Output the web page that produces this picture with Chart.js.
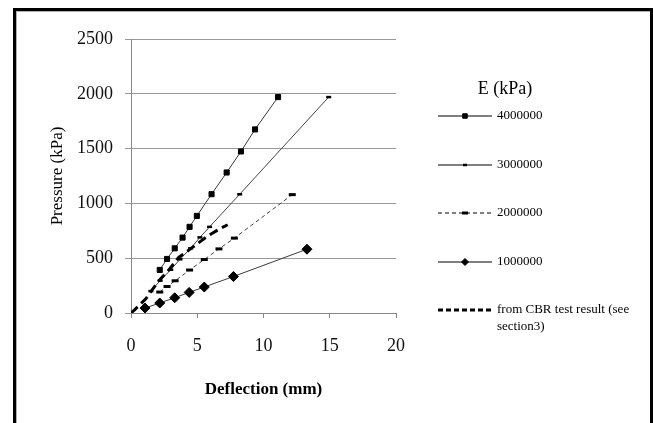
<!DOCTYPE html>
<html>
<head>
<meta charset="utf-8">
<script src="https://cdn.jsdelivr.net/npm/chart.js@4.4.1/dist/chart.umd.min.js"></script>
<style>
body{margin:0;background:#fff;}
#wrap{position:relative;width:653px;height:423px;overflow:hidden;background:#fff;}
#frame{position:absolute;left:13px;top:8px;width:634px;height:440px;border:3px solid #000;box-shadow:inset 1px 1px 0 #b0b0b0;pointer-events:none;}
canvas{position:absolute;left:0;top:0;}
</style>
</head>
<body>
<div id="wrap">
<canvas id="plot" width="653" height="423"></canvas>
<div id="frame"></div>
</div>
<script>
// values: deflection (mm) vs pressure (kPa)
var xTicks = [0, 5, 10, 15, 20];
var yTicks = [0, 500, 1000, 1500, 2000, 2500];

var legendTitle = 'E (kPa)';
var seriesNames = ['4000000', '3000000', '2000000', '1000000', ['from CBR test result (see', 'section3)']];

var defl4000 = [2.17, 2.72, 3.30, 3.89, 4.42, 4.97, 6.08, 7.22, 8.30, 9.36, 11.10];
var pres4000 = [393, 493, 590, 688, 786, 886, 1084, 1282, 1474, 1675, 1970];

var defl3000 = [1.5, 2.2, 3.0, 3.7, 4.5, 5.2, 5.93, 8.2, 14.92];
var pres3000 = [200, 295, 395, 490, 590, 690, 786, 1083, 1970];

var defl2000 = [2.17, 2.72, 3.33, 4.42, 5.53, 6.64, 7.8, 12.17];
var pres2000 = [191, 242, 294, 392, 488, 585, 683, 1080];

var defl1000 = [1.06, 2.17, 3.30, 4.39, 5.53, 7.73, 13.28];
var pres1000 = [45, 91, 139, 188, 237, 333, 582];

var deflCBR = [0, 0.25, 1.1, 2.1, 2.9, 3.6, 4.8, 5.8, 6.8, 7.3];
var presCBR = [0, 27, 127, 294, 400, 507, 613, 704, 775, 805];

function pts(xs, ys){
    return xs.map(function(x, i){ return {x: x, y: ys[i]}; });
}

var legendRows = [116, 165, 213, 262, 310];

var sideLegend = {
    id: 'sideLegend',
    afterDraw: function(chart){
        var ctx = chart.ctx;
        ctx.save();
        ctx.fillStyle = '#000';
        ctx.font = '18px "Liberation Serif"';
        ctx.textAlign = 'center';
        ctx.textBaseline = 'middle';
        ctx.fillText(legendTitle, 505, 89);

        chart.data.datasets.forEach(function(ds, i){
            var y = legendRows[i];
            ctx.strokeStyle = '#000';
            ctx.lineWidth = ds.legendLine || 1;
            ctx.setLineDash(ds.legendDash || []);
            ctx.beginPath();
            ctx.moveTo(438, y);
            ctx.lineTo(492, y);
            ctx.stroke();
            ctx.setLineDash([]);
            if (ds.pointRadius > 0) {
                ctx.fillStyle = '#000';
                ctx.strokeStyle = '#000';
                ctx.lineWidth = ds.pointBorderWidth;
                Chart.helpers.drawPoint(ctx, {
                    pointStyle: ds.pointStyle,
                    radius: ds.legendRadius,
                    borderWidth: ds.pointBorderWidth,
                    rotation: 0
                }, 465, y);
            }
            ctx.fillStyle = '#000';
            ctx.font = '13px "Liberation Serif"';
            ctx.textAlign = 'left';
            var lines = [].concat(ds.label);
            lines.forEach(function(t, k){
                ctx.fillText(t, 497, y + k * 17);
            });
        });
        ctx.restore();
    }
};

function plain(v){ return String(v); }

window.onload = function(){
    var ctx = document.getElementById('plot').getContext('2d');

    var chart = new Chart(ctx, {
        type: 'line',
        data: {
            datasets: [{
                label: seriesNames[0],
                data: pts(defl4000, pres4000),
                borderColor: '#3a3a3a',
                borderWidth: 1,
                pointStyle: 'rect',
                pointRadius: 3.6,
                legendRadius: 3.2,
                pointBackgroundColor: '#000',
                pointBorderColor: '#000',
                pointBorderWidth: 1,
                order: 1
            }, {
                label: seriesNames[1],
                data: pts(defl3000, pres3000),
                borderColor: '#444',
                borderWidth: 1,
                pointStyle: 'line',
                pointRadius: 2.5,
                legendRadius: 2,
                pointBorderColor: '#000',
                pointBorderWidth: 2.5,
                order: 2
            }, {
                label: seriesNames[2],
                data: pts(defl2000, pres2000),
                borderColor: '#444',
                borderWidth: 1,
                borderDash: [4, 3],
                legendDash: [4, 3],
                pointStyle: 'line',
                pointRadius: 3.5,
                legendRadius: 3,
                pointBorderColor: '#000',
                pointBorderWidth: 3,
                order: 3
            }, {
                label: seriesNames[3],
                data: pts(defl1000, pres1000),
                borderColor: '#3a3a3a',
                borderWidth: 1,
                pointStyle: 'rectRot',
                pointRadius: 5,
                legendRadius: 3.5,
                pointBackgroundColor: '#000',
                pointBorderColor: '#000',
                pointBorderWidth: 1,
                order: 4
            }, {
                label: seriesNames[4],
                data: pts(deflCBR, presCBR),
                borderColor: '#000',
                borderWidth: 3,
                borderDash: [9, 5],
                legendLine: 3,
                legendDash: [5, 3],
                pointRadius: 0,
                order: 0
            }]
        },
        options: {
            responsive: false,
            animation: false,
            events: [],
            layout: {padding: {left: 47, right: 257, top: 39, bottom: 23}},
            plugins: {legend: {display: false}, tooltip: {enabled: false}},
            scales: {
                x: {
                    type: 'linear',
                    min: 0,
                    max: 20,
                    afterBuildTicks: function(s){ s.ticks = xTicks.map(function(v){ return {value: v}; }); },
                    afterFit: function(s){ s.height = 87; },
                    grid: {drawOnChartArea: false, drawTicks: true, tickLength: 5, color: '#888'},
                    border: {color: '#888'},
                    ticks: {color: '#111', padding: 17, maxRotation: 0, callback: plain,
                        font: {family: 'Liberation Serif', size: 18}},
                    title: {display: true, text: 'Deflection (mm)', color: '#000', padding: 0,
                        font: {family: 'Liberation Serif', size: 17, weight: 'bold'}}
                },
                y: {
                    type: 'linear',
                    min: 0,
                    max: 2500,
                    afterBuildTicks: function(s){ s.ticks = yTicks.map(function(v){ return {value: v}; }); },
                    afterFit: function(s){ s.width = 84; },
                    grid: {color: '#999', tickLength: 6},
                    border: {color: '#888'},
                    ticks: {color: '#111', padding: 12, callback: plain,
                        font: {family: 'Liberation Serif', size: 18}},
                    title: {display: true, text: 'Pressure (kPa)', color: '#000', padding: 0,
                        font: {family: 'Liberation Serif', size: 17}}
                }
            }
        },
        plugins: [sideLegend]
    });
};
</script>
</body>
</html>
